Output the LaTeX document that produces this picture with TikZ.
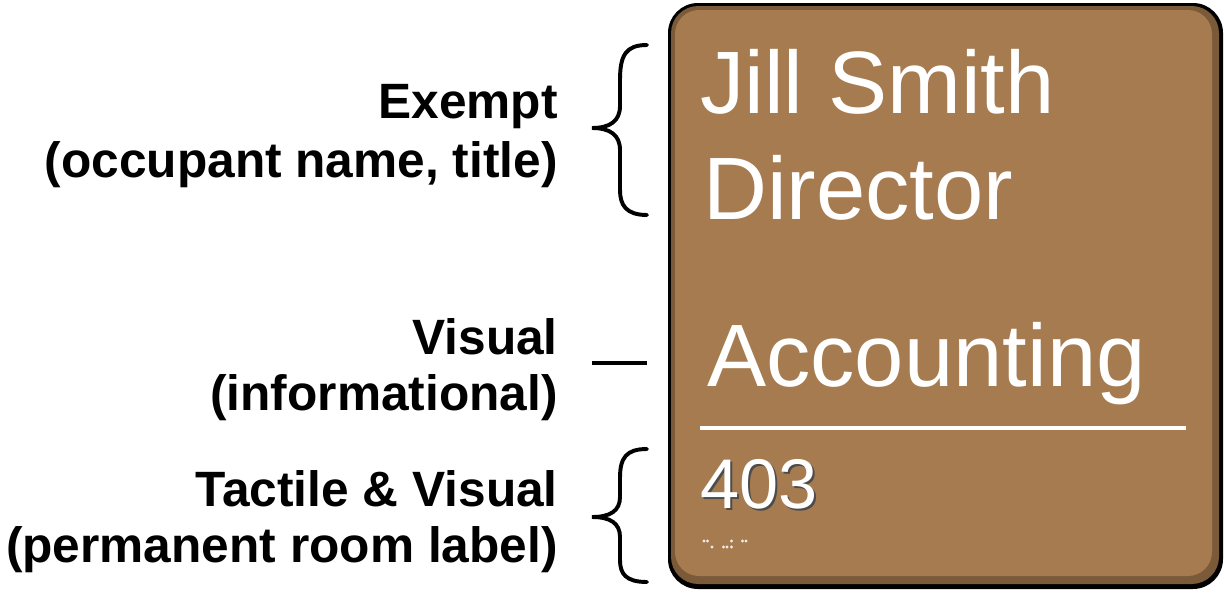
\documentclass[tikz,border=0pt]{standalone}
\usepackage{fontspec}
\setmainfont{Liberation Sans}
\usetikzlibrary{positioning}

\definecolor{signbrown}{RGB}{166,123,80}
\definecolor{signedge}{RGB}{122,90,57}

\begin{document}
\begin{tikzpicture}[
        x=0.025cm, y=-0.025cm,
        lbl/.style={anchor=base east, inner sep=0pt, font=\fontsize{35.3}{40}\selectfont\bfseries},
        signtext/.style={anchor=base west, inner sep=0pt, text=white, font=\fontsize{63}{70}\selectfont},
        brace/.style={draw, line width=2.8pt, line cap=round}
    ]
        \useasboundingbox (0,0) rectangle (1224,593);

        % Schild
        \fill[black, rounded corners=0.75cm] (668,3) rectangle (1223,589);
        \fill[signedge, rounded corners=0.68cm] (671,6) rectangle (1219,584);
        \fill[signbrown, rounded corners=0.6cm] (675,10) rectangle (1212,576);

        \node[signtext] (name) at (700,113) {Jill Smith};
        \node[signtext] (title) at (703,219) {Director};
        \node[signtext] (room) at (707,386) {Accounting};
        \coordinate (ruleL) at (700,428);
        \coordinate (ruleR) at (1186,428);
        \draw[white, line width=2.3pt] (ruleL) -- (ruleR);
        \node[signtext, text=black!70, font=\fontsize{50}{56}\selectfont] at (702,510) {403};
        \node[signtext, font=\fontsize{50}{56}\selectfont] (number) at (700,508) {403};

        % Braille
        \foreach \bx/\by in {704/541, 707.5/541, 712/547, 723.5/547, 727/547, 731.5/541, 731.5/547, 742.5/541, 746/541}
            \fill[white!85!signbrown] (\bx,\by) circle (1.7);

        % Beschriftung
        \node[lbl] (exempt) at (558,118) {Exempt};
        \node[lbl] (exemptsub) at (558,177) {(occupant name, title)};
        \node[lbl] (visual) at (558,354) {Visual};
        \node[lbl] (visualsub) at (558,410) {(informational)};
        \node[lbl] (tactile) at (558,506) {Tactile \& Visual};
        \node[lbl] (tactilesub) at (558,562) {(permanent room label)};

        % Klammern
        \coordinate (topA) at (647,45);
        \coordinate (topB) at (647,215);
        \coordinate (topTip) at (592,128);
        \draw[brace] (topA) .. controls (626,45) and (620,55) .. (620,80) -- (620,106)
            .. controls (620,121) and (610,128) .. (topTip)
            .. controls (610,128) and (620,135) .. (620,150) -- (620,190)
            .. controls (620,205) and (626,215) .. (topB);

        \coordinate (dashL) at (592,363);
        \coordinate (dashR) at (647,363);
        \draw[line width=2.8pt] (dashL) -- (dashR);

        \coordinate (botA) at (647,449);
        \coordinate (botB) at (647,582);
        \coordinate (botTip) at (592,517);
        \draw[brace] (botA) .. controls (626,449) and (620,458) .. (620,478) -- (620,497)
            .. controls (620,511) and (610,517) .. (botTip)
            .. controls (610,517) and (620,523) .. (620,537) -- (620,560)
            .. controls (620,574) and (626,582) .. (botB);
\end{tikzpicture}
\end{document}
